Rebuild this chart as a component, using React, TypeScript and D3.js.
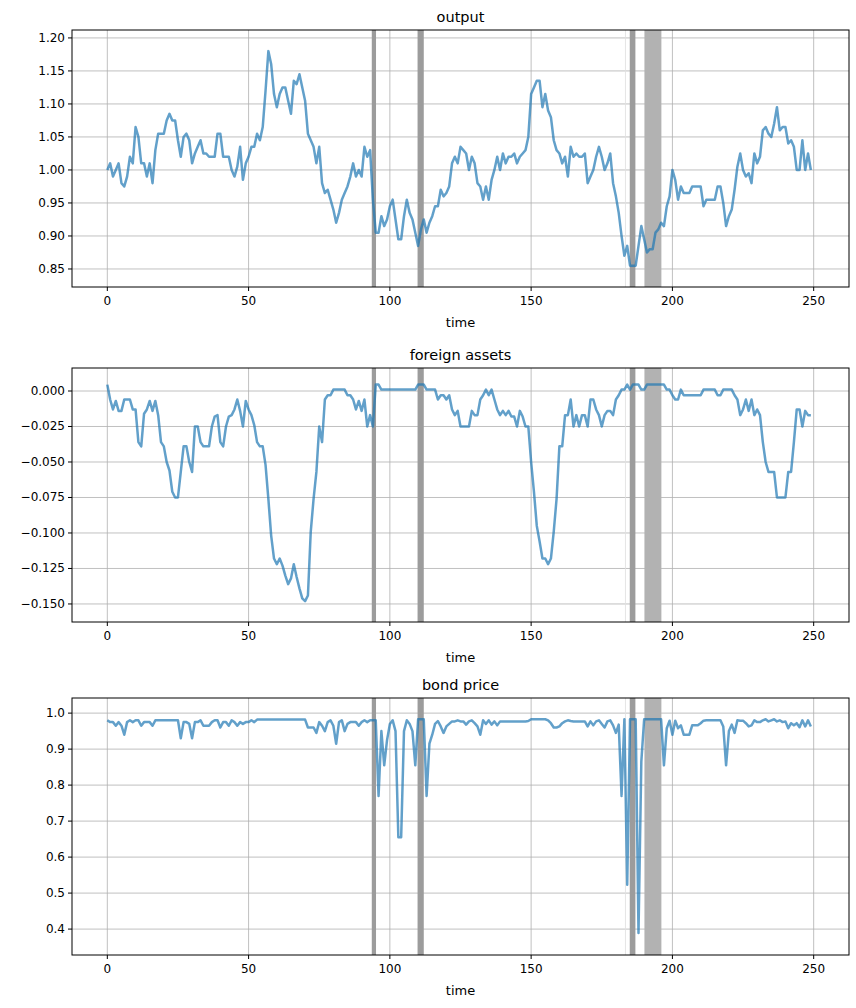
import { FC } from 'react'
import * as d3 from 'd3'

const outputV = [
  1.00,1.01,0.99,1.00,1.01,0.98,0.975,0.99,1.02,1.01,
  1.065,1.05,1.01,1.01,0.99,1.01,0.98,1.03,1.055,1.055,
  1.055,1.075,1.085,1.075,1.075,1.045,1.02,1.05,1.055,1.045,
  1.01,1.025,1.035,1.045,1.025,1.025,1.02,1.02,1.02,1.055,
  1.055,1.02,1.02,1.02,1.00,0.99,1.005,1.035,0.985,1.01,
  1.02,1.035,1.035,1.055,1.045,1.065,1.12,1.18,1.16,1.115,
  1.095,1.115,1.125,1.125,1.105,1.085,1.135,1.13,1.145,1.125,
  1.105,1.055,1.045,1.035,1.01,1.035,0.98,0.965,0.97,0.955,
  0.94,0.92,0.935,0.955,0.965,0.975,0.99,1.01,0.99,1.00,
  0.99,1.035,1.02,1.03,0.955,0.905,0.905,0.93,0.915,0.925,
  0.945,0.955,0.925,0.895,0.895,0.93,0.955,0.935,0.925,0.905,
  0.885,0.91,0.925,0.905,0.92,0.93,0.945,0.945,0.97,0.96,
  0.965,0.975,1.01,1.02,1.01,1.035,1.03,1.025,1.00,1.02,
  1.01,0.98,0.975,0.955,0.975,0.955,0.985,1.00,1.02,1.00,
  1.025,1.01,1.02,1.02,1.025,1.01,1.02,1.025,1.03,1.05,
  1.115,1.125,1.135,1.135,1.095,1.115,1.09,1.08,1.045,1.03,
  1.025,1.01,1.02,0.99,1.035,1.02,1.025,1.02,1.02,1.025,
  0.98,0.99,1.00,1.02,1.035,1.02,1.00,1.01,1.025,0.98,
  0.96,0.935,0.90,0.87,0.885,0.855,0.855,0.855,0.885,0.915,
  0.895,0.875,0.88,0.88,0.905,0.91,0.92,0.915,0.945,0.96,
  1.00,0.985,0.955,0.975,0.965,0.965,0.965,0.975,0.975,0.975,
  0.975,0.945,0.955,0.955,0.955,0.955,0.975,0.975,0.95,0.915,
  0.93,0.94,0.97,1.005,1.025,1.00,0.99,0.995,0.98,1.025,
  1.01,1.02,1.06,1.065,1.055,1.05,1.07,1.095,1.06,1.065,
  1.065,1.04,1.045,1.035,1.00,1.00,1.045,1.00,1.025,1.00,
]

const assetsV = [
  0.0045,-0.006,-0.013,-0.007,-0.014,-0.014,-0.006,-0.006,-0.006,-0.013,
  -0.013,-0.036,-0.039,-0.016,-0.013,-0.007,-0.014,-0.007,-0.017,-0.036,
  -0.039,-0.05,-0.056,-0.071,-0.075,-0.075,-0.057,-0.039,-0.039,-0.05,
  -0.057,-0.025,-0.025,-0.036,-0.039,-0.039,-0.039,-0.025,-0.018,-0.017,
  -0.036,-0.039,-0.025,-0.018,-0.017,-0.013,-0.006,-0.014,-0.025,-0.007,
  -0.013,-0.017,-0.024,-0.036,-0.039,-0.039,-0.052,-0.076,-0.102,-0.118,
  -0.122,-0.118,-0.123,-0.13,-0.136,-0.132,-0.122,-0.131,-0.139,-0.146,
  -0.148,-0.144,-0.099,-0.076,-0.057,-0.025,-0.036,-0.006,-0.003,-0.003,
  0.001,0.001,0.001,0.001,0.001,-0.003,-0.003,-0.006,-0.013,-0.007,
  -0.014,-0.006,-0.025,-0.017,-0.025,0.0045,0.0045,0.001,0.001,0.001,
  0.001,0.001,0.001,0.001,0.001,0.001,0.001,0.001,0.001,0.001,
  0.0045,0.0045,0.0045,0.001,0.001,0.001,0.001,-0.006,-0.003,-0.003,
  -0.006,-0.003,-0.013,-0.017,-0.014,-0.025,-0.025,-0.025,-0.025,-0.014,
  -0.017,-0.017,-0.006,-0.003,0.001,-0.003,0.001,-0.006,-0.013,-0.017,
  -0.014,-0.017,-0.014,-0.018,-0.018,-0.025,-0.014,-0.018,-0.025,-0.025,
  -0.05,-0.071,-0.095,-0.106,-0.118,-0.118,-0.122,-0.118,-0.099,-0.076,
  -0.039,-0.039,-0.017,-0.017,-0.006,-0.025,-0.017,-0.025,-0.017,-0.017,
  -0.025,-0.006,-0.006,-0.013,-0.017,-0.025,-0.017,-0.014,-0.014,-0.017,
  -0.006,-0.003,0.001,0.001,0.0045,0.001,0.0045,0.0045,0.0045,0.001,
  0.001,0.0045,0.0045,0.0045,0.0045,0.0045,0.0045,0.0045,0.001,0.001,
  -0.003,-0.006,-0.006,0.001,-0.003,-0.003,-0.003,-0.003,-0.003,-0.003,
  -0.003,0.001,0.001,0.001,0.001,0.001,-0.003,-0.003,0.001,0.001,
  0.001,0.001,-0.003,-0.006,-0.017,-0.013,-0.006,-0.014,-0.006,-0.017,
  -0.013,-0.017,-0.036,-0.05,-0.057,-0.057,-0.057,-0.075,-0.075,-0.075,
  -0.075,-0.057,-0.057,-0.036,-0.013,-0.013,-0.025,-0.014,-0.017,-0.017,
]

const bondV = [
  0.98,0.975,0.975,0.965,0.975,0.965,0.94,0.975,0.98,0.975,
  0.98,0.98,0.965,0.975,0.975,0.975,0.965,0.98,0.98,0.98,
  0.98,0.98,0.98,0.98,0.98,0.98,0.93,0.975,0.975,0.97,
  0.93,0.975,0.975,0.98,0.965,0.965,0.965,0.975,0.98,0.98,
  0.96,0.975,0.975,0.965,0.98,0.975,0.965,0.975,0.97,0.975,
  0.975,0.98,0.975,0.982,0.982,0.982,0.982,0.982,0.982,0.982,
  0.982,0.982,0.982,0.982,0.982,0.982,0.982,0.982,0.982,0.982,
  0.982,0.96,0.96,0.96,0.945,0.975,0.965,0.95,0.975,0.98,
  0.965,0.915,0.975,0.98,0.95,0.97,0.975,0.975,0.975,0.965,
  0.975,0.98,0.975,0.98,0.98,0.98,0.77,0.95,0.855,0.925,
  0.97,0.98,0.95,0.655,0.655,0.95,0.98,0.97,0.95,0.855,
  0.983,0.983,0.983,0.77,0.915,0.94,0.97,0.978,0.963,0.945,
  0.963,0.97,0.977,0.977,0.98,0.977,0.977,0.968,0.977,0.98,
  0.972,0.963,0.94,0.98,0.97,0.98,0.968,0.977,0.966,0.977,
  0.977,0.977,0.977,0.977,0.977,0.977,0.977,0.977,0.977,0.978,
  0.983,0.983,0.983,0.983,0.983,0.983,0.98,0.972,0.96,0.96,
  0.963,0.972,0.977,0.98,0.978,0.977,0.977,0.977,0.977,0.977,
  0.963,0.977,0.966,0.977,0.98,0.97,0.96,0.977,0.98,0.966,
  0.945,0.968,0.77,0.983,0.523,0.983,0.983,0.983,0.389,0.866,
  0.983,0.983,0.983,0.983,0.983,0.983,0.983,0.855,0.958,0.979,
  0.94,0.979,0.958,0.966,0.94,0.94,0.94,0.966,0.966,0.966,
  0.972,0.979,0.98,0.98,0.98,0.98,0.98,0.98,0.963,0.855,
  0.95,0.968,0.945,0.98,0.979,0.979,0.972,0.963,0.966,0.98,
  0.975,0.975,0.98,0.983,0.977,0.98,0.983,0.977,0.98,0.975,
  0.977,0.958,0.972,0.966,0.972,0.961,0.98,0.963,0.98,0.963,
]

// shaded periods [start, end, fill]
const spans: [number, number, string][] = [
  [93.6, 95.1, '#9c9c9c'],
  [109.8, 112.0, '#9c9c9c'],
  [183.2, 183.5, '#e0e0e0'],
  [184.9, 186.9, '#9c9c9c'],
  [190.1, 196.1, '#b2b2b2'],
]

const xTicks = [0, 50, 100, 150, 200, 250]
const outputTicks = [0.85, 0.9, 0.95, 1.0, 1.05, 1.1, 1.15, 1.2]
const assetsTicks = [-0.15, -0.125, -0.1, -0.075, -0.05, -0.025, 0]
const bondTicks = [0.4, 0.5, 0.6, 0.7, 0.8, 0.9, 1.0]

const L = 72, R = 849
const font = 'DejaVu Sans, sans-serif'

interface PanelProps {
  title: string
  values: number[]
  top: number
  bottom: number
  domain: [number, number]
  ticks: number[]
  fmt: string
}

const Panel: FC<PanelProps> = ({ title, values, top, bottom, domain, ticks, fmt }) => {
  const x = d3.scaleLinear().domain([-12.5, 262.5]).range([L, R])
  const y = d3.scaleLinear().domain(domain).range([bottom, top])
  const f = d3.format(fmt)
  const line = d3.line<number>().x((_, i) => x(i)).y(d => y(d))
  const clipId = `clip-${title.replace(/\s/g, '')}`
  return (
    <g>
      <defs>
        <clipPath id={clipId}><rect x={L} y={top} width={R - L} height={bottom - top} /></clipPath>
      </defs>
      {xTicks.map(t => (
        <line key={'gx' + t} x1={x(t)} x2={x(t)} y1={top} y2={bottom} stroke="#b0b0b0" strokeWidth={0.8} />
      ))}
      {ticks.map(t => (
        <line key={'gy' + t} x1={L} x2={R} y1={y(t)} y2={y(t)} stroke="#b0b0b0" strokeWidth={0.8} />
      ))}
      {spans.map(([a, b, c], i) => (
        <rect key={i} x={x(a)} width={x(b) - x(a)} y={top} height={bottom - top} fill={c} />
      ))}
      <path d={line(values) ?? ''} fill="none" stroke="#1f77b4" strokeOpacity={0.7} strokeWidth={2.5}
        strokeLinejoin="round" clipPath={`url(#${clipId})`} />
      <rect x={L} y={top} width={R - L} height={bottom - top} fill="none" stroke="#000" strokeWidth={1} />
      {xTicks.map(t => (
        <g key={'tx' + t}>
          <line x1={x(t)} x2={x(t)} y1={bottom} y2={bottom + 4} stroke="#000" />
          <text x={x(t)} y={bottom + 18} textAnchor="middle" fontSize={12} fontFamily={font}>{t}</text>
        </g>
      ))}
      {ticks.map(t => (
        <g key={'ty' + t}>
          <line x1={L - 4} x2={L} y1={y(t)} y2={y(t)} stroke="#000" />
          <text x={L - 7} y={y(t) + 4} textAnchor="end" fontSize={12} fontFamily={font}>{f(t).replace('-', '\u2212')}</text>
        </g>
      ))}
      <text x={(L + R) / 2} y={top - 8} textAnchor="middle" fontSize={14.5} fontFamily={font}>{title}</text>
      <text x={(L + R) / 2} y={bottom + 40} textAnchor="middle" fontSize={13} fontFamily={font}>time</text>
    </g>
  )
}

const App: FC = () => (
  <div style={{ position: 'fixed', left: 0, top: 0 }}>
    <svg width={856} height={1008} style={{ display: 'block', background: '#fff' }}>
      <Panel title="output" values={outputV} top={30} bottom={287} domain={[0.8227, 1.212]} ticks={outputTicks} fmt=".2f" />
      <Panel title="foreign assets" values={assetsV} top={368} bottom={622} domain={[-0.1627, 0.0162]} ticks={assetsTicks} fmt=".3f" />
      <Panel title="bond price" values={bondV} top={698} bottom={955} domain={[0.328, 1.042]} ticks={bondTicks} fmt=".1f" />
    </svg>
  </div>
)

export default App
